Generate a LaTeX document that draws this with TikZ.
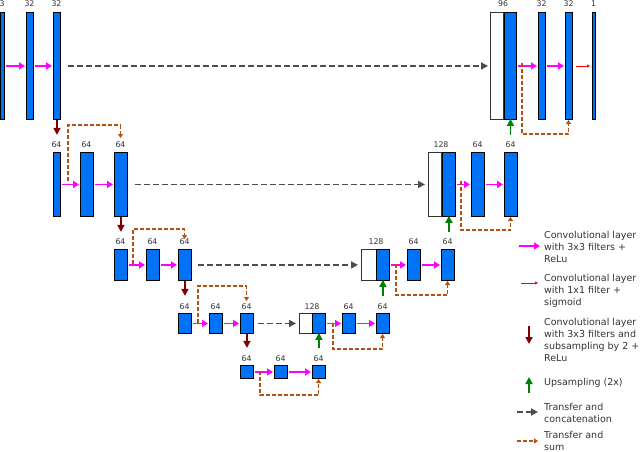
\documentclass[tikz,border=0pt]{standalone}
\usepackage{fontspec}
\setmainfont{DejaVu Sans}
\usetikzlibrary{arrows.meta,calc}
\definecolor{bl}{RGB}{0,114,245}
\definecolor{mag}{RGB}{255,0,255}
\definecolor{dred}{RGB}{128,0,0}
\definecolor{grn}{RGB}{0,128,0}
\definecolor{gry}{RGB}{77,77,77}
\definecolor{org}{RGB}{180,80,20}
\tikzset{
 x=1pt,y=-1pt,
 fm/.style={draw=black,fill=bl,line width=0.9pt,inner sep=0,anchor=north west},
 wm/.style={draw=black!80,fill=white,line width=0.9pt,inner sep=0,anchor=north west},
 lab/.style={font=\fontsize{7.8}{8}\selectfont,text=black!80,inner sep=0},
 conv/.style={-{Triangle[length=6pt,width=7pt]},mag,line width=1.6pt},
 sig/.style={-{Triangle[length=3pt,width=3pt]},red,line width=0.8pt},
 down/.style={-{Triangle[length=7pt,width=7pt]},dred,line width=1.6pt},
 up/.style={-{Triangle[length=7pt,width=7pt]},grn,line width=1.6pt},
 cat/.style={-{Triangle[length=7pt,width=7pt]},gry,line width=1.7pt,dash pattern=on 6pt off 3pt},
 sum/.style={-{Triangle[length=4pt,width=5pt]},org,line width=1.2pt,dash pattern=on 4pt off 2pt},
 leg/.style={font=\fontsize{9.5}{12.3}\selectfont,text=black!80,align=left,anchor=west,inner sep=0}
}
\begin{document}
\begin{tikzpicture}
\useasboundingbox (0,0) rectangle (640,452);
% row1
\node[fm,minimum width=4,minimum height=107] (a0) at (0,12) {};
\node[lab] at (2,4) {3};
\node[fm,minimum width=7,minimum height=107] (a1) at (26,12) {};
\node[lab] at (29.5,4) {32};
\node[fm,minimum width=7,minimum height=107] (a2) at (53,12) {};
\node[lab] at (56.5,4) {32};
\node[wm,minimum width=13,minimum height=107] (aw) at (490,12) {};
\node[fm,minimum width=12,minimum height=107] (ac) at (504,12) {};
\node[lab] at (503,4) {96};
\node[fm,minimum width=7,minimum height=107] (a3) at (538,12) {};
\node[lab] at (541.5,4) {32};
\node[fm,minimum width=7,minimum height=107] (a4) at (565,12) {};
\node[lab] at (568.5,4) {32};
\node[fm,minimum width=3,minimum height=107] (a5) at (592,12) {};
\node[lab] at (593.5,4) {1};
% row2
\node[fm,minimum width=7,minimum height=64] (b0) at (53,152) {};
\node[lab] at (56.5,145) {64};
\node[fm,minimum width=13,minimum height=64] (b1) at (80,152) {};
\node[lab] at (86.5,145) {64};
\node[fm,minimum width=13,minimum height=64] (b2) at (114,152) {};
\node[lab] at (120.5,145) {64};
\node[wm,minimum width=13,minimum height=64] (bw) at (428,152) {};
\node[fm,minimum width=13,minimum height=64] (bc) at (442,152) {};
\node[lab] at (441,145) {128};
\node[fm,minimum width=13,minimum height=64] (b3) at (471,152) {};
\node[lab] at (477.5,145) {64};
\node[fm,minimum width=13,minimum height=64] (b4) at (504,152) {};
\node[lab] at (510.5,145) {64};
% row3
\node[fm,minimum width=13,minimum height=31] (c0) at (114,249) {};
\node[lab] at (120.5,242) {64};
\node[fm,minimum width=13,minimum height=31] (c1) at (146,249) {};
\node[lab] at (152.5,242) {64};
\node[fm,minimum width=13,minimum height=31] (c2) at (178,249) {};
\node[lab] at (184.5,242) {64};
\node[wm,minimum width=15,minimum height=31] (cw) at (361,249) {};
\node[fm,minimum width=13,minimum height=31] (cc) at (376,249) {};
\node[lab] at (376,242) {128};
\node[fm,minimum width=13,minimum height=31] (c3) at (407,249) {};
\node[lab] at (413.5,242) {64};
\node[fm,minimum width=13,minimum height=31] (c4) at (441,249) {};
\node[lab] at (447.5,242) {64};
% row4
\node[fm,minimum width=13,minimum height=20] (d0) at (178,313) {};
\node[lab] at (184.5,307) {64};
\node[fm,minimum width=13,minimum height=20] (d1) at (209,313) {};
\node[lab] at (215.5,307) {64};
\node[fm,minimum width=13,minimum height=20] (d2) at (240,313) {};
\node[lab] at (246.5,307) {64};
\node[wm,minimum width=13,minimum height=20] (dw) at (299,313) {};
\node[fm,minimum width=13,minimum height=20] (dc) at (312,313) {};
\node[lab] at (312,307) {128};
\node[fm,minimum width=13,minimum height=20] (d3) at (342,313) {};
\node[lab] at (348.5,307) {64};
\node[fm,minimum width=13,minimum height=20] (d4) at (376,313) {};
\node[lab] at (382.5,307) {64};
% row5
\node[fm,minimum width=13,minimum height=13] (e0) at (240,365) {};
\node[lab] at (246.5,359) {64};
\node[fm,minimum width=13,minimum height=13] (e1) at (274,365) {};
\node[lab] at (280.5,359) {64};
\node[fm,minimum width=13,minimum height=13] (e2) at (312,365) {};
\node[lab] at (318.5,359) {64};
% conv arrows
\draw[conv] ([xshift=1pt]a0.east) -- ([xshift=-1pt]a1.west);
\draw[conv] ([xshift=1pt]a1.east) -- ([xshift=-1pt]a2.west);
\draw[conv] ([xshift=1pt]ac.east) -- ([xshift=-1pt]a3.west);
\draw[conv] ([xshift=1pt]a3.east) -- ([xshift=-1pt]a4.west);
\draw[sig] ([xshift=3pt]a4.east) -- ([xshift=-2pt]a5.west);
\foreach \p/\q in {b0/b1,b1/b2,bc/b3,b3/b4,c0/c1,c1/c2,cc/c3,c3/c4,d0/d1,d1/d2,dc/d3,d3/d4,e0/e1,e1/e2}
  \draw[conv] ([xshift=1pt]\p.east) -- ([xshift=-1pt]\q.west);
% down
\draw[down] (a2.south) -- ++(0,15);
\draw[down] (b2.south) -- ++(0,15);
\draw[down] (c2.south) -- ++(0,15);
\draw[down] (d2.south) -- ++(0,14);
% up
\draw[up] ($(ac.south)+(0,15)$) -- ([yshift=1pt]ac.south);
\draw[up] ($(bc.south)+(0,15)$) -- ([yshift=1pt]bc.south);
\draw[up] ($(cc.south)+(0,15)$) -- ([yshift=1pt]cc.south);
\draw[up] ($(dc.south)+(0,14)$) -- ([yshift=1pt]dc.south);
% concat
\draw[cat] ([xshift=7pt]a2.east) -- ([xshift=-2pt]aw.west);
\draw[cat] ([xshift=7pt]b2.east) -- ([xshift=-3pt]bw.west);
\draw[cat] ([xshift=6pt]c2.east) -- ([xshift=-3pt]cw.west);
\draw[cat] ([xshift=4pt]d2.east) -- ([xshift=-3pt]dw.west);
% sum
\draw[sum] (68,181) -- (68,125) -- (120.5,125) -- (120.5,138);
\draw[sum] (133,264) -- (133,229) -- (184.5,229) -- (184.5,239);
\draw[sum] (198,323) -- (198,286) -- (246.5,286) -- (246.5,301);
\draw[sum] (260,371) -- (260,395) -- (318.5,395) -- (318.5,379);
\draw[sum] (333,323) -- (333,349) -- (382.5,349) -- (382.5,334);
\draw[sum] (396,264) -- (396,295) -- (447.5,295) -- (447.5,281);
\draw[sum] (461,181) -- (461,230) -- (510.5,230) -- (510.5,217);
\draw[sum] (522,63) -- (522,134) -- (568.5,134) -- (568.5,120);
% legend
\draw[conv] (519,246) -- (540,246);
\node[leg] at (544,247) {Convolutional layer\\with 3x3 filters +\\ReLu};
\draw[sig] (521,283) -- (538,283);
\node[leg] at (544,291) {Convolutional layer\\with 1x1 filter +\\sigmoid};
\draw[down] (529,326) -- (529,344);
\node[leg] at (544,340) {Convolutional layer\\with 3x3 filters and\\subsampling by 2 +\\ReLu};
\draw[up] (529,393) -- (529,377);
\node[leg] at (544,383) {Upsampling (2x)};
\draw[cat] (517,412) -- (538,412);
\node[leg] at (544,413) {Transfer and\\concatenation};
\draw[sum] (517,441) -- (538,441);
\node[leg] at (544,441) {Transfer and\\sum};
\end{tikzpicture}
\end{document}
